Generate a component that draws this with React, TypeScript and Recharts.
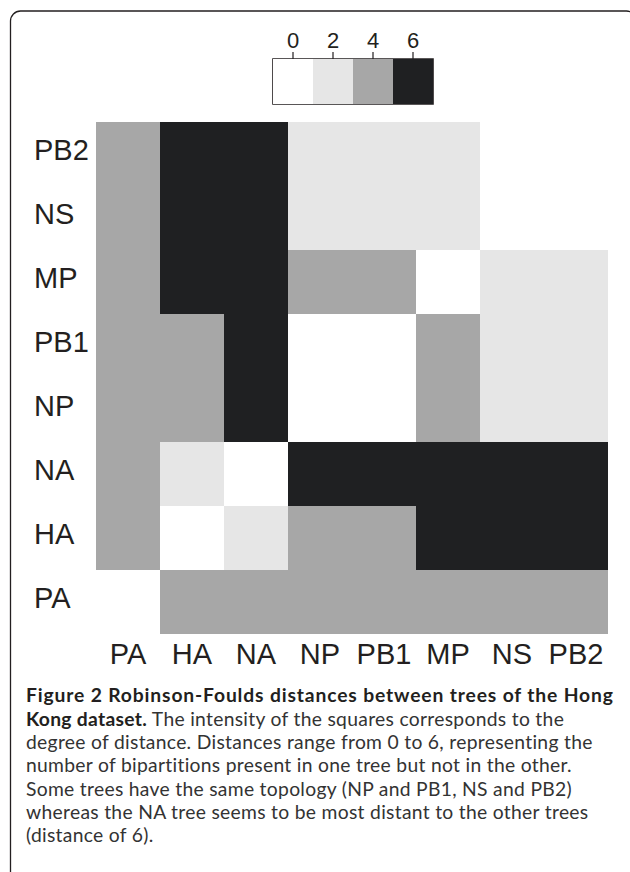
import React from "react";
import { BarChart, Bar, XAxis, YAxis, Cell, ReferenceArea } from "recharts";

// Robinson-Foulds distance matrix, rows listed top to bottom
const COLUMNS = ["PA", "HA", "NA", "NP", "PB1", "MP", "NS", "PB2"];
const ROWS = ["PB2", "NS", "MP", "PB1", "NP", "NA", "HA", "PA"];
const DISTANCES = [
  [4, 6, 6, 2, 2, 2, 0, 0],
  [4, 6, 6, 2, 2, 2, 0, 0],
  [4, 6, 6, 4, 4, 0, 2, 2],
  [4, 4, 6, 0, 0, 4, 2, 2],
  [4, 4, 6, 0, 0, 4, 2, 2],
  [4, 2, 0, 6, 6, 6, 6, 6],
  [4, 0, 2, 4, 4, 6, 6, 6],
  [0, 4, 4, 4, 4, 4, 4, 4],
];
const LEGEND_LEVELS = [0, 2, 4, 6];

const LEVEL_COLORS: Record<number, string> = {
  0: "#ffffff",
  2: "#e6e6e6",
  4: "#a7a7a7",
  6: "#1f2022",
};

const CAPTION_BOLD_1 = "Figure 2 Robinson-Foulds distances between trees of the Hong";
const CAPTION_BOLD_2 = "Kong dataset.";
const CAPTION_LINES = [
  " The intensity of the squares corresponds to the",
  "degree of distance. Distances range from 0 to 6, representing the",
  "number of bipartitions present in one tree but not in the other.",
  "Some trees have the same topology (NP and PB1, NS and PB2)",
  "whereas the NA tree seems to be most distant to the other trees",
  "(distance of 6).",
];

const INK = "#231f20";
const LABEL_FONT = "'Liberation Sans', Arial, sans-serif";
const CAPTION_FONT = "Lato, 'Open Sans', sans-serif";

// each cell is one unit wide so the stacked bars fill the grid
const cellKeys = COLUMNS.map((_c, j) => `c${j}`);
const heatData = ROWS.map((row) => {
  const d: Record<string, any> = { row };
  cellKeys.forEach((k) => (d[k] = 1));
  return d;
});
const legendKeys = LEGEND_LEVELS.map((_l, j) => `l${j}`);
const legendData = [
  legendKeys.reduce((acc: Record<string, any>, k) => ({ ...acc, [k]: 1 }), { k: "scale" }),
];

const RowTick = ({ y, payload }: any) => (
  <text x={34} y={y + 5.5} fontSize={29} fontFamily={LABEL_FONT} fill={INK}>
    {payload.value}
  </text>
);

const ColTick = ({ x, y, payload }: any) => (
  <text x={x} y={y + 30} textAnchor="middle" fontSize={29} fontFamily={LABEL_FONT} fill={INK}>
    {COLUMNS[Math.floor(payload.value)]}
  </text>
);

const LegendTick = ({ x, y, payload }: any) => (
  <text x={x} y={y} textAnchor="middle" fontSize={22} fontFamily={LABEL_FONT} fill={INK}>
    {LEGEND_LEVELS[Math.floor(payload.value)]}
  </text>
);

export default function App() {
  return (
    <div style={{ position: "absolute", left: 0, top: 0, width: 630, height: 872, background: "#fff", overflow: "hidden" }}>
      <svg width={630} height={872} style={{ position: "absolute", left: 0, top: 0 }}>
        <rect x={10.5} y={11} width={626} height={880} rx={10} fill="none" stroke={INK} strokeWidth={1.3} />
      </svg>

      <div style={{ position: "absolute", left: 0, top: 0 }}>
        <BarChart
          width={630}
          height={680}
          data={heatData}
          layout="vertical"
          margin={{ top: 122, right: 22, bottom: 6, left: 30 }}
          barCategoryGap={0}
          barGap={0}
        >
          <XAxis
            type="number"
            domain={[0, 8]}
            ticks={COLUMNS.map((_c, j) => j + 0.5)}
            interval={0}
            height={40}
            axisLine={false}
            tickLine={false}
            tickSize={0}
            tickMargin={0}
            tick={<ColTick />}
          />
          <YAxis
            type="category"
            dataKey="row"
            width={66}
            interval={0}
            axisLine={false}
            tickLine={false}
            tick={<RowTick />}
          />
          {cellKeys.map((k, j) => (
            <Bar key={k} dataKey={k} stackId="m" isAnimationActive={false}>
              {ROWS.map((r, i) => (
                <Cell key={`${r}-${j}`} fill={LEVEL_COLORS[DISTANCES[i][j]]} />
              ))}
            </Bar>
          ))}
        </BarChart>
      </div>

      <div style={{ position: "absolute", left: 240, top: 0 }}>
        <BarChart
          width={230}
          height={130}
          data={legendData}
          layout="vertical"
          margin={{ top: 29, right: 37, bottom: 26, left: 33 }}
          barCategoryGap={0}
        >
          <XAxis
            type="number"
            orientation="top"
            domain={[0, 4]}
            ticks={LEGEND_LEVELS.map((_l, j) => j + 0.5)}
            interval={0}
            height={30}
            axisLine={false}
            tickSize={7}
            tickMargin={4}
            tickLine={{ stroke: INK, strokeWidth: 1.2 }}
            tick={<LegendTick />}
          />
          <YAxis type="category" dataKey="k" hide />
          {legendKeys.map((k, j) => (
            <Bar key={k} dataKey={k} stackId="s" fill={LEVEL_COLORS[LEGEND_LEVELS[j]]} isAnimationActive={false} />
          ))}
          <ReferenceArea x1={0} x2={4} fill="none" stroke={INK} strokeWidth={1.6} ifOverflow="visible" />
        </BarChart>
      </div>

      <svg width={630} height={872} style={{ position: "absolute", left: 0, top: 0 }}>
        <g fontFamily={CAPTION_FONT} fontSize={19.3} fill={INK}>
          <text x={26} y={702.3} fontWeight={700} letterSpacing={0.85}>
            {CAPTION_BOLD_1}
          </text>
          <text x={26} y={725.6} letterSpacing={0.3}>
            <tspan fontWeight={700}>{CAPTION_BOLD_2}</tspan>
            <tspan fill="#333">{CAPTION_LINES[0]}</tspan>
          </text>
          {CAPTION_LINES.slice(1).map((line, i) => (
            <text key={i} x={26} y={749 + i * 23.33} fill="#333" letterSpacing={0.3}>
              {line}
            </text>
          ))}
        </g>
      </svg>
    </div>
  );
}
